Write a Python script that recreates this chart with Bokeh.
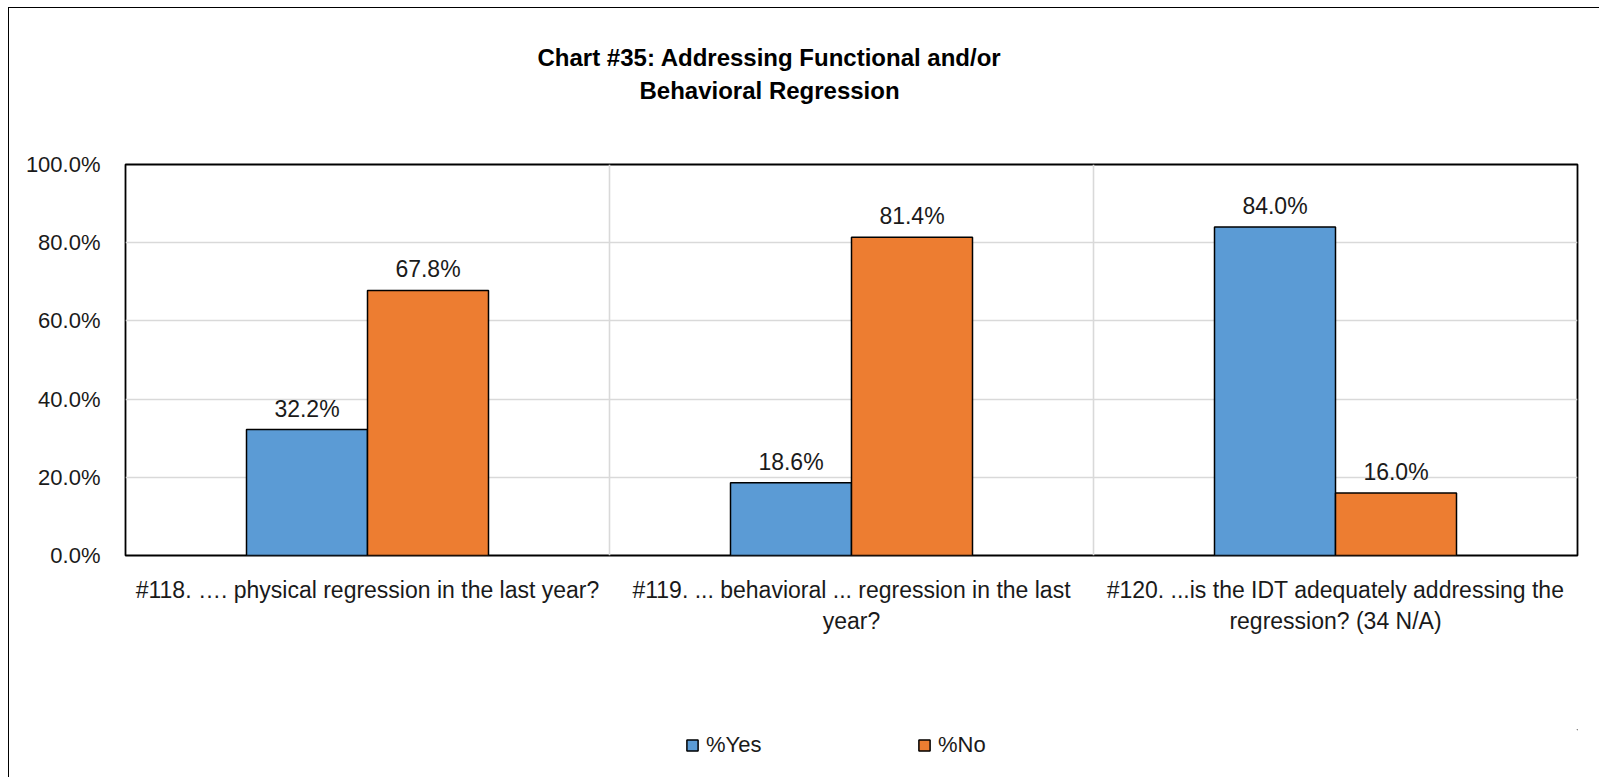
from bokeh.plotting import figure
from bokeh.layouts import column
from bokeh.models import (ColumnDataSource, FactorRange, Range1d, Span, Title, Legend, LegendItem,
                          SingleIntervalTicker, PrintfTickFormatter)
from bokeh.transform import dodge
from bokeh.core.properties import value
from bokeh.embed import file_html
from bokeh.resources import INLINE

# ---- data ----
categories = [
    "#118. \u2026. physical regression in the last year?",
    "#119. ... behavioral ... regression in the last\nyear?",
    "#120. ...is the IDT adequately addressing the\nregression? (34 N/A)",
]
pct_yes = [32.2, 18.6, 84.0]
pct_no = [67.8, 81.4, 16.0]
series_names = ["%Yes", "%No"]
title_lines = ["Chart #35:  Addressing Functional and/or", "Behavioral  Regression"]

FONT = "'Liberation Sans', Arial, sans-serif"
BLUE = "#5B9BD5"
ORANGE = "#ED7D31"
TXT = "#1a1a1a"

src = ColumnDataSource(dict(
    cat=categories,
    yes=pct_yes,
    no=pct_no,
    yes_lbl=[f"{v:.1f}%" for v in pct_yes],
    no_lbl=[f"{v:.1f}%" for v in pct_no],
))

p = figure(
    x_range=FactorRange(factors=categories, range_padding=0),
    y_range=Range1d(0, 100),
    frame_width=1452, frame_height=391,
    min_border_left=116, min_border_right=22, min_border_top=156, min_border_bottom=174,
    output_backend="svg", toolbar_location=None, title=None,
)
p.background_fill_color = "white"
p.border_fill_color = "white"
p.outline_line_color = "black"
p.outline_line_width = 1.8

# grid
p.xgrid.grid_line_color = None
p.ygrid.grid_line_color = "#D9D9D9"
p.ygrid.grid_line_width = 1.6
for b in range(1, len(categories)):
    p.add_layout(Span(location=b, dimension="height", line_color="#D9D9D9",
                      line_width=1.6, level="underlay"))

# bars
bar_style = dict(width=0.25, line_color="black", line_width=1.5)
r_yes = p.vbar(x=dodge("cat", -0.125, range=p.x_range), top="yes", source=src,
               fill_color=BLUE, **bar_style)
r_no = p.vbar(x=dodge("cat", 0.125, range=p.x_range), top="no", source=src,
              fill_color=ORANGE, **bar_style)

# data labels
for col, off in (("yes", -0.125), ("no", 0.125)):
    p.text(x=dodge("cat", off, range=p.x_range), y=col, text=col + "_lbl", source=src,
           text_align="center", text_baseline="alphabetic", y_offset=-21,
           text_font=value(FONT), text_font_size="23px", text_color=TXT)

# axes
p.yaxis.ticker = SingleIntervalTicker(interval=20, num_minor_ticks=0)
p.yaxis.formatter = PrintfTickFormatter(format="%.1f%%")
for ax in (p.xaxis[0], p.yaxis[0]):
    ax.axis_line_color = None
    ax.major_tick_line_color = None
    ax.minor_tick_line_color = None
    ax.major_tick_out = 0
    ax.major_tick_in = 0
    ax.minor_tick_out = 0
    ax.major_label_text_font = FONT
    ax.major_label_text_font_size = "22px"
    ax.major_label_text_color = TXT
p.xaxis.major_label_text_font_size = "23px"
p.yaxis.major_label_standoff = 25
p.xaxis.major_label_standoff = 21
p.xaxis.major_label_orientation = "horizontal"

# title: blank spacer next to the frame, then the two lines
p.add_layout(Title(text=" ", text_font_size="10px", standoff=46), "above")
p.add_layout(Title(text=title_lines[1], align="left", offset=514, standoff=4,
                   text_font=FONT, text_font_size="24px", text_font_style="bold",
                   text_color="black"), "above")
p.add_layout(Title(text=title_lines[0], align="left", offset=412, standoff=4,
                   text_font=FONT, text_font_size="24px", text_font_style="bold",
                   text_color="black"), "above")

# legend strip (its own small figure; key renderers sit far outside its visible range)
lf = figure(width=1590, height=48, min_border=0, x_range=Range1d(0, 1), y_range=Range1d(0, 1),
            x_axis_type=None, y_axis_type=None, output_backend="svg", toolbar_location=None,
            title=None)
lf.outline_line_color = None
lf.background_fill_color = "white"
lf.border_fill_color = "white"
lf.xgrid.grid_line_color = None
lf.ygrid.grid_line_color = None
key_src = ColumnDataSource(dict(x=[50.0], bottom=[50.0], top=[51.0]))
key_style = dict(width=0.001, line_color="black", line_width=1.5)
l_yes = lf.vbar(x="x", bottom="bottom", top="top", source=key_src, fill_color=BLUE, **key_style)
l_no = lf.vbar(x="x", bottom="bottom", top="top", source=key_src, fill_color=ORANGE, **key_style)
legend = Legend(
    items=[LegendItem(label=series_names[0], renderers=[l_yes]),
           LegendItem(label=series_names[1], renderers=[l_no])],
    location=(560, 19), orientation="horizontal",
    glyph_width=14, glyph_height=14, label_standoff=7, label_width=79, spacing=132,
    padding=0, margin=0, border_line_color=None, background_fill_alpha=0,
    label_text_font=FONT, label_text_font_size="22px", label_text_color=TXT,
)
lf.add_layout(legend)

page = column(p, lf, spacing=0)
page.styles = {"border-left": "1.5px solid black", "border-top": "1.5px solid black",
               "margin-left": "8px", "margin-top": "7px"}

open("out.html", "w").write(file_html(page, INLINE))
